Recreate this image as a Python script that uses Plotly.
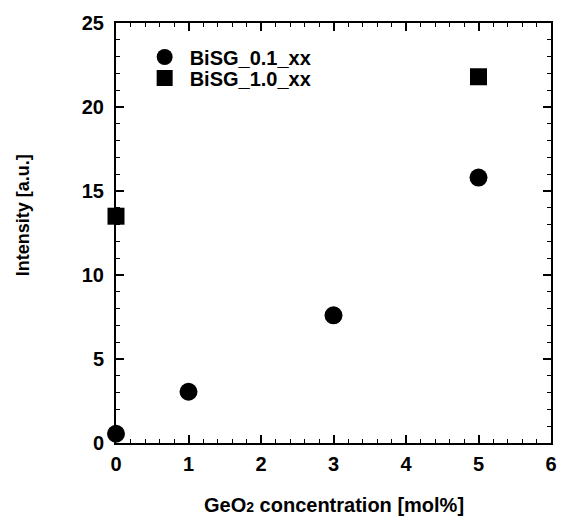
import plotly.graph_objects as go

x_01 = [0, 1, 3, 5]
y_01 = [0.55, 3.05, 7.6, 15.8]
x_10 = [0, 5]
y_10 = [13.5, 21.8]
x_ticks = [0, 1, 2, 3, 4, 5, 6]
y_ticks = [0, 5, 10, 15, 20, 25]

FONT = "Liberation Sans, Arial, sans-serif"

fig = go.Figure()
fig.add_trace(go.Scatter(x=x_01, y=y_01, mode="markers", name="BiSG_0.1_xx",
                         marker=dict(symbol="circle", size=18, color="black"),
                         cliponaxis=False, legend="legend"))
fig.add_trace(go.Scatter(x=x_10, y=y_10, mode="markers", name="BiSG_1.0_xx",
                         marker=dict(symbol="square", size=17, color="black"),
                         cliponaxis=False, legend="legend2"))

axis_common = dict(
    showline=True, linecolor="black", linewidth=2, mirror="allticks",
    ticks="inside", ticklen=8, tickwidth=1.5, tickcolor="black",
    showgrid=False, zeroline=False, tickmode="array", tickangle=0,
    tickfont=dict(family=FONT, size=20, color="black", weight="bold"),
)

fig.update_xaxes(range=[x_ticks[0], x_ticks[-1]], tickvals=x_ticks,
                 ticktext=[str(v) for v in x_ticks], ticklabelstandoff=2,
                 minor=dict(dtick=0.2, ticks="inside", ticklen=4, tickwidth=1.2, tickcolor="black"),
                 **axis_common)
fig.update_yaxes(range=[y_ticks[0], y_ticks[-1]], tickvals=y_ticks, ticktext=[str(v) for v in y_ticks],
                 minor=dict(dtick=1, ticks="inside", ticklen=4, tickwidth=1.2, tickcolor="black"),
                 ticklabelstandoff=6,
                 **axis_common)

fig.add_annotation(text="GeO<span style='font-size:14px'>2</span> concentration [mol%]",
                   xref="paper", yref="paper", x=0.5, y=(443 - 505) / 420,
                   xanchor="center", yanchor="middle", showarrow=False,
                   font=dict(family=FONT, size=20, color="black", weight="bold"))

fig.add_annotation(text="Intensity [a.u.]", xref="paper", yref="paper",
                   x=(22 - 116) / 441, y=(443 - 215) / 420, xanchor="center", yanchor="middle",
                   textangle=-90, showarrow=False,
                   font=dict(family=FONT, size=18, color="black", weight="bold"))

leg_common = dict(xanchor="left", yanchor="middle", x=0.0544,
                  bgcolor="rgba(0,0,0,0)", borderwidth=0,
                  font=dict(family=FONT, size=20, color="black", weight="bold"),
                  itemwidth=40)

fig.update_layout(
    width=564, height=518,
    margin=dict(l=116, r=7, t=23, b=75),
    paper_bgcolor="white", plot_bgcolor="white",
    font=dict(family=FONT, color="black"),
    legend=dict(y=(443 - 57) / 420, **leg_common),
    legend2=dict(y=(443 - 78) / 420, **leg_common),
    showlegend=True,
)

fig.write_html("out.html")
